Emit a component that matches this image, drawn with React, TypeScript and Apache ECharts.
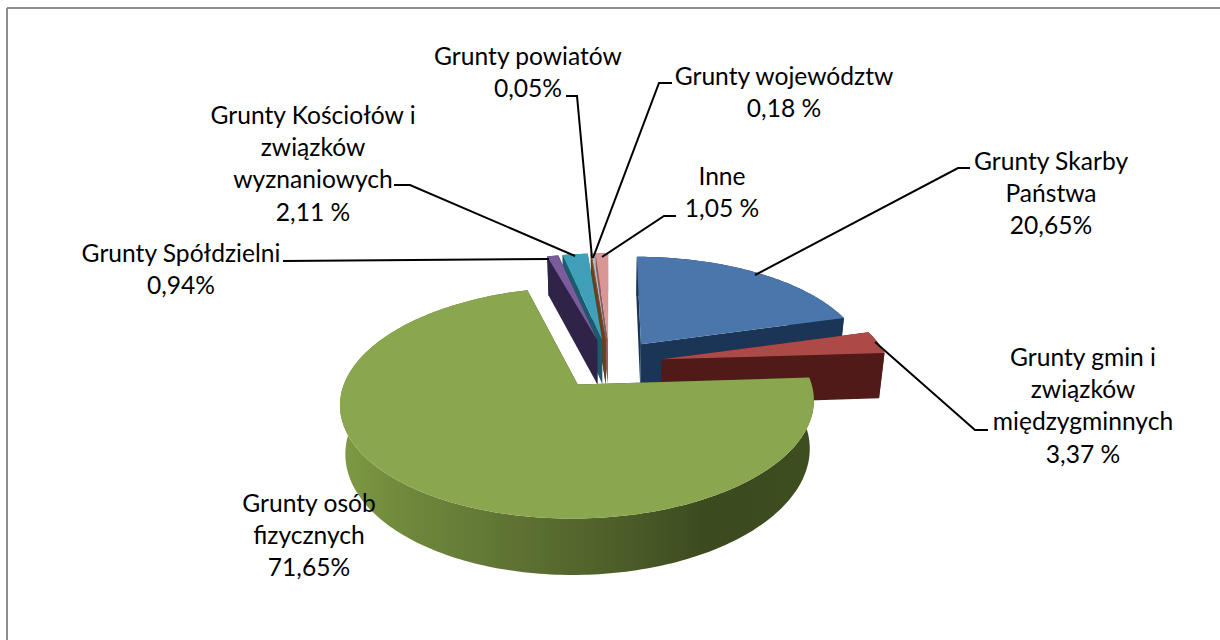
import React, { useEffect, useRef } from "react";
import * as echarts from "echarts";

const categories = [
  "Grunty Skarby Państwa",
  "Grunty gmin i związków międzygminnych",
  "Grunty osób fizycznych",
  "Grunty Spółdzielni",
  "Grunty Kościołów i związków wyznaniowych",
  "Grunty powiatów",
  "Grunty województw",
  "Inne",
];
const values = [20.65, 3.37, 71.65, 0.94, 2.11, 0.05, 0.18, 1.05];
const labelLines = [
  ["Grunty Skarby", "Państwa", "20,65%"],
  ["Grunty gmin i", "związków", "międzygminnych", "3,37 %"],
  ["Grunty osób", "fizycznych", "71,65%"],
  ["Grunty Spółdzielni", "0,94%"],
  ["Grunty Kościołów i", "związków", "wyznaniowych", "2,11 %"],
  ["Grunty powiatów", "0,05%"],
  ["Grunty województw", "0,18 %"],
  ["Inne", "1,05 %"],
];

// Styling and layout, by slice
const paintOrder = [7, 6, 5, 4, 3, 0, 1, 2];
const topColors = ["#4a76ab", "#ab4a47", "#8aa64e", "#7a5c9c", "#41a0b9", "#a8663a", "#b4bcc8", "#d99694"];
const wallColors = ["#1b3556", "#4f1a17", "#3d4a1e", "#2f2347", "#1b5c6c", "#6a3f1c", "#5a6a80", "#8a5a58"];
const labelCenterX = [1051, 1083, 309, 181, 313, 528, 784, 722];
const labelFirstY = [160, 356, 502, 252, 114, 55, 75, 175];
const lineHeight = 32.4;
const leaders: number[][][] = [
  [[755, 275], [958, 168], [970, 168]],
  [[875, 342], [975, 430], [988, 430]],
  [],
  [[549, 259], [283, 261]],
  [[575, 256], [410, 185], [394, 185]],
  [[592, 258], [577, 96], [566, 96]],
  [[593, 258], [659, 83], [672, 83]],
  [[602, 257], [664, 216], [676, 216]],
];

// Pie projection constants (perspective view of an exploded disc)
const CX = 609.6;
const CY = 363.5;
const RX = 227;
const RY = 106.3;
const K = 0.154;
const EXPLODE = 0.235;
const DEPTH = 46;
const BASE_X = 0.98;

type P = [number, number];
const project = (X: number, Y: number, lower: boolean): P => {
  const w = 1 + K * Y;
  const x = (X * RX) / w;
  const y = CY - (RY * Y) / w;
  return lower ? [CX + x * BASE_X, y + DEPTH / w] : [CX + x, y];
};

const total = values.reduce((a, b) => a + b, 0);
const starts = values.map((_, i) => (values.slice(0, i).reduce((a, b) => a + b, 0) / total) * Math.PI * 2);
const ends = values.map((v, i) => starts[i] + (v / total) * Math.PI * 2);

const renderItem = (_params: any, api: any) => {
  const i = api.value(1) as number;
  const a0 = starts[i];
  const a1 = ends[i];
  const mid = (a0 + a1) / 2;
  const ox = Math.sin(mid) * EXPLODE;
  const oy = Math.cos(mid) * EXPLODE;
  const n = Math.max(2, Math.ceil((a1 - a0) / 0.02));
  const arc: [number, number][] = [];
  for (let k = 0; k <= n; k++) {
    const a = a0 + ((a1 - a0) * k) / n;
    arc.push([ox + Math.sin(a), oy + Math.cos(a)]);
  }
  const topPts: P[] = [project(ox, oy, false), ...arc.map((p) => project(p[0], p[1], false))];
  const wall = (pts: [number, number][]): P[] => [
    ...pts.map((p) => project(p[0], p[1], false)),
    ...pts.slice().reverse().map((p) => project(p[0], p[1], true)),
  ];
  const apex: [number, number] = [ox, oy];
  const children: any[] = [];
  const poly = (points: P[], fill: any) =>
    children.push({ type: "polygon", shape: { points }, style: { fill, stroke: "none" }, silent: true });
  poly(wall([apex, arc[0]]), wallColors[i]);
  poly(wall([apex, arc[arc.length - 1]]), wallColors[i]);
  const arcFill =
    i === 2
      ? new echarts.graphic.LinearGradient(
          341, 0, 814, 0,
          [
            { offset: 0, color: "#7f9a45" },
            { offset: 0.12, color: "#718a3c" },
            { offset: 0.35, color: "#5f7434" },
            { offset: 0.55, color: "#4f622a" },
            { offset: 0.78, color: "#3b4a1f" },
            { offset: 1, color: "#3f4e20" },
          ],
          true
        )
      : wallColors[i];
  poly(wall(arc), arcFill);
  poly(topPts, topColors[i]);
  return { type: "group", children };
};

export default function App() {
  const ref = useRef<HTMLDivElement>(null);
  useEffect(() => {
    document.body.style.margin = "0";
    const chart = echarts.init(ref.current!, undefined, { renderer: "svg" });
    const graphics: any[] = [
      { type: "line", z: 1, shape: { x1: 7, y1: 8, x2: 1220, y2: 8 }, style: { stroke: "#8c8c8c", lineWidth: 2 } },
      { type: "line", z: 1, shape: { x1: 7, y1: 8, x2: 7, y2: 640 }, style: { stroke: "#8c8c8c", lineWidth: 2 } },
    ];
    leaders.forEach((pts) => {
      if (pts.length)
        graphics.push({
          type: "polyline",
          z: 20,
          shape: { points: pts },
          style: { stroke: "#000", lineWidth: 2, fill: "none" },
        });
    });
    labelLines.forEach((lines, i) => {
      lines.forEach((t, j) => {
        graphics.push({
          type: "text",
          z: 30,
          x: labelCenterX[i],
          y: labelFirstY[i] + j * lineHeight,
          style: {
            text: t,
            fill: "#000",
            font: '24.6px Lato, "Open Sans", sans-serif',
            textAlign: "center",
            textVerticalAlign: "middle",
          },
        });
      });
    });
    chart.setOption({
      animation: false,
      backgroundColor: "#ffffff",
      graphic: { elements: graphics },
      series: [
        {
          type: "custom",
          coordinateSystem: "none",
          renderItem,
          silent: true,
          data: paintOrder.map((i) => ({ name: categories[i], value: [values[i], i] })),
        },
      ],
    });
    return () => chart.dispose();
  }, []);
  return <div ref={ref} style={{ width: 1220, height: 640, position: "absolute", left: 0, top: 0 }} />;
}
